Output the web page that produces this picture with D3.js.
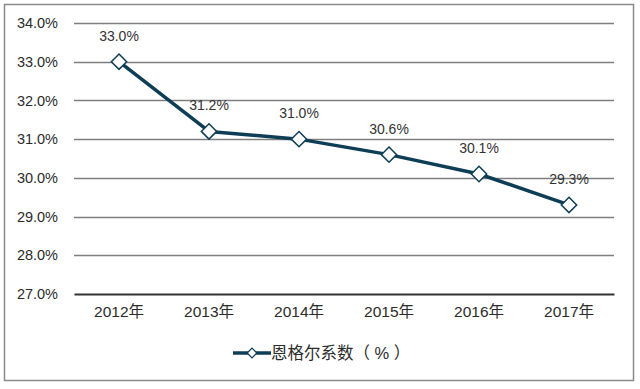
<!DOCTYPE html>
<html>
<head>
<meta charset="utf-8">
<script src="https://cdn.jsdelivr.net/npm/d3@7"></script>
<style>
  body { margin: 0; background: #fff; }
  text { font-family: "Liberation Sans", Arial, "Noto Sans CJK SC", sans-serif; }
</style>
</head>
<body>
<script>
// chart data
const years = ['2012年', '2013年', '2014年', '2015年', '2016年', '2017年']
const engel = [33.0, 31.2, 31.0, 30.6, 30.1, 29.3]
const yTicks = [27, 28, 29, 30, 31, 32, 33, 34]
const seriesName = '恩格尔系数（ % ）'

const width = 640
const height = 389
const margin = { top: 23, right: 26, bottom: 95, left: 74 }
const lineColor = '#0e3d56'

const svg = d3.select('body').append('svg')
  .attr('xmlns', 'http://www.w3.org/2000/svg')
  .attr('width', width)
  .attr('height', height)

// outer frame
svg.append('rect')
  .attr('x', 4.5).attr('y', 4.5)
  .attr('width', 629).attr('height', 376)
  .attr('fill', '#fff')
  .attr('stroke', '#8a8a8a')
  .attr('stroke-width', 1.5)

const x = d3.scaleBand()
  .domain(years)
  .range([margin.left, width - margin.right])

const y = d3.scaleLinear()
  .domain([27, 34])
  .range([height - margin.bottom, margin.top])

// gridlines
svg.append('g')
  .selectAll('line')
  .data(yTicks.slice(1))
  .enter()
  .append('line')
  .attr('x1', margin.left).attr('x2', width - margin.right)
  .attr('y1', d => Math.round(y(d)) + 0.5).attr('y2', d => Math.round(y(d)) + 0.5)
  .attr('stroke', '#7f7f7f')
  .attr('stroke-width', 1.3)

// y axis labels
const yAxis = svg.append('g')
  .attr('transform', `translate(${margin.left},0)`)
  .call(d3.axisLeft(y).tickValues(yTicks).tickFormat(d => d.toFixed(1) + '%').tickSize(0).tickPadding(16))
yAxis.select('.domain').remove()
yAxis.selectAll('text')
  .attr('font-size', 14.5)
  .attr('fill', '#2b2b2b')

// x axis
const xAxis = svg.append('g')
  .attr('transform', `translate(0,${y(27)})`)
  .call(d3.axisBottom(x).tickSize(0).tickPadding(12))
xAxis.select('.domain')
  .attr('stroke', '#333')
  .attr('stroke-width', 2)
xAxis.selectAll('text')
  .attr('font-size', 15.5)
  .attr('fill', '#2b2b2b')

// series line
const pts = years.map((d, i) => [x(d) + x.bandwidth() / 2, y(engel[i])])
svg.append('path')
  .datum(pts)
  .attr('d', d3.line())
  .attr('fill', 'none')
  .attr('stroke', lineColor)
  .attr('stroke-width', 3.5)
  .attr('stroke-linejoin', 'round')

const diamond = d3.symbol().type(d3.symbolDiamond2).size(150)

svg.append('g')
  .selectAll('path')
  .data(pts)
  .enter()
  .append('path')
  .attr('transform', d => `translate(${d[0]},${d[1]})`)
  .attr('d', diamond)
  .attr('fill', '#fff')
  .attr('stroke', lineColor)
  .attr('stroke-width', 1.5)

// data labels
svg.append('g')
  .selectAll('text')
  .data(pts)
  .enter()
  .append('text')
  .attr('x', d => d[0])
  .attr('y', d => d[1] - 21)
  .attr('text-anchor', 'middle')
  .attr('font-size', 14)
  .attr('fill', '#333')
  .text((d, i) => engel[i].toFixed(1) + '%')

// legend
const lg = svg.append('g').attr('transform', 'translate(233,353)')
lg.append('line')
  .attr('x1', 0).attr('x2', 38)
  .attr('stroke', lineColor)
  .attr('stroke-width', 3.5)
lg.append('path')
  .attr('transform', 'translate(19,0)')
  .attr('d', d3.symbol().type(d3.symbolDiamond2).size(60))
  .attr('fill', '#fff')
  .attr('stroke', lineColor)
  .attr('stroke-width', 1.3)
lg.append('text')
  .attr('x', 38)
  .attr('y', 6)
  .attr('font-size', 16.5)
  .attr('fill', '#2b2b2b')
  .attr('xml:space', 'preserve')
  .text(seriesName)
</script>
</body>
</html>
